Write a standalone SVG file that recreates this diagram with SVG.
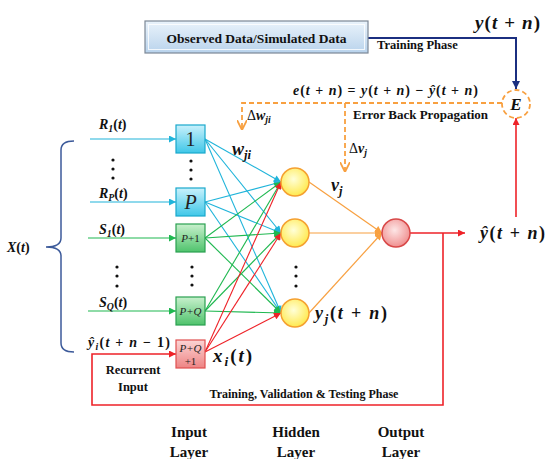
<svg xmlns="http://www.w3.org/2000/svg" width="550" height="459" viewBox="0 0 550 459">
<defs>
<style>
.lbl{font-family:"Liberation Serif","Times New Roman",serif;font-weight:bold;fill:#111}
.m{font-family:"Liberation Serif","Times New Roman",serif;font-weight:bold;font-style:italic;fill:#111}
.up{font-style:normal}
.sub{font-size:70%}
.boxt{font-family:"Liberation Serif","Times New Roman",serif;fill:#222}
.cy{stroke:#20b4da;stroke-width:1.1;fill:none}
.gr{stroke:#1fb850;stroke-width:1.1;fill:none}
.rd{stroke:#ee2228;stroke-width:1.1;fill:none}
.or{stroke:#f8a040;stroke-width:1.2;fill:none}
.dots{fill:#111}
</style>
<linearGradient id="gTop" x1="0" y1="0" x2="0" y2="1"><stop offset="0" stop-color="#eaf3fb"/><stop offset="1" stop-color="#b9d3ec"/></linearGradient>
<linearGradient id="gCy" x1="0" y1="0" x2="0" y2="1"><stop offset="0" stop-color="#c9f1fc"/><stop offset="1" stop-color="#3fc7e8"/></linearGradient>
<linearGradient id="gGr" x1="0" y1="0" x2="0" y2="1"><stop offset="0" stop-color="#c8f0cd"/><stop offset="1" stop-color="#4fc36c"/></linearGradient>
<linearGradient id="gRd" x1="0" y1="0" x2="0" y2="1"><stop offset="0" stop-color="#fcd4d4"/><stop offset="1" stop-color="#ee8484"/></linearGradient>
<radialGradient id="gHid" cx="0.45" cy="0.4" r="0.6"><stop offset="0" stop-color="#ffffd8"/><stop offset="1" stop-color="#ffe94e"/></radialGradient>
<radialGradient id="gOut" cx="0.45" cy="0.4" r="0.6"><stop offset="0" stop-color="#fde6e6"/><stop offset="1" stop-color="#f09090"/></radialGradient>
<marker id="aCy" viewBox="0 0 10 10" refX="10" refY="5" markerUnits="userSpaceOnUse" markerWidth="8" markerHeight="7" orient="auto"><path d="M0,0 L10,5 L0,10 z" fill="#20b4da"/></marker>
<marker id="aGr" viewBox="0 0 10 10" refX="10" refY="5" markerUnits="userSpaceOnUse" markerWidth="8" markerHeight="7" orient="auto"><path d="M0,0 L10,5 L0,10 z" fill="#1fb850"/></marker>
<marker id="aRd" viewBox="0 0 10 10" refX="10" refY="5" markerUnits="userSpaceOnUse" markerWidth="8" markerHeight="7" orient="auto"><path d="M0,0 L10,5 L0,10 z" fill="#ee2228"/></marker>
<marker id="aOr" viewBox="0 0 10 10" refX="10" refY="5" markerUnits="userSpaceOnUse" markerWidth="8" markerHeight="7" orient="auto"><path d="M0,0 L10,5 L0,10 z" fill="#f8a040"/></marker>
<marker id="aBl" viewBox="0 0 10 10" refX="10" refY="5" markerUnits="userSpaceOnUse" markerWidth="9" markerHeight="8" orient="auto"><path d="M0,0 L10,5 L0,10 z" fill="#1b2f80"/></marker>
<marker id="aOrD" viewBox="0 0 10 10" refX="10" refY="5" markerUnits="userSpaceOnUse" markerWidth="10" markerHeight="10" orient="auto"><path d="M0,0 L10,5 L0,10" fill="none" stroke="#f8a040" stroke-width="1.8"/></marker>
</defs>
<rect width="550" height="459" fill="#ffffff"/>

<g id="connectors">
  <line class="cy" x1="90" y1="139" x2="176" y2="139" marker-end="url(#aCy)"/>
  <line class="cy" x1="90" y1="202" x2="176" y2="202" marker-end="url(#aCy)"/>
  <line class="gr" x1="88" y1="238" x2="176" y2="238" marker-end="url(#aGr)"/>
  <line class="gr" x1="88" y1="311" x2="176" y2="311" marker-end="url(#aGr)"/>
  <line class="cy" x1="205" y1="139" x2="281" y2="182" marker-end="url(#aCy)"/>
  <line class="cy" x1="205" y1="139" x2="281" y2="233" marker-end="url(#aCy)"/>
  <line class="cy" x1="205" y1="139" x2="281" y2="313" marker-end="url(#aCy)"/>
  <line class="cy" x1="205" y1="202" x2="281" y2="182" marker-end="url(#aCy)"/>
  <line class="cy" x1="205" y1="202" x2="281" y2="233" marker-end="url(#aCy)"/>
  <line class="cy" x1="205" y1="202" x2="281" y2="313" marker-end="url(#aCy)"/>
  <line class="gr" x1="205" y1="238" x2="281" y2="182" marker-end="url(#aGr)"/>
  <line class="gr" x1="205" y1="238" x2="281" y2="233" marker-end="url(#aGr)"/>
  <line class="gr" x1="205" y1="238" x2="281" y2="313" marker-end="url(#aGr)"/>
  <line class="gr" x1="205" y1="311" x2="281" y2="182" marker-end="url(#aGr)"/>
  <line class="gr" x1="205" y1="311" x2="281" y2="233" marker-end="url(#aGr)"/>
  <line class="gr" x1="205" y1="311" x2="281" y2="313" marker-end="url(#aGr)"/>
  <line class="rd" x1="205" y1="352" x2="281" y2="182" marker-end="url(#aRd)"/>
  <line class="rd" x1="205" y1="352" x2="281" y2="233" marker-end="url(#aRd)"/>
  <line class="rd" x1="205" y1="352" x2="281" y2="313" marker-end="url(#aRd)"/>
  <line class="or" x1="309" y1="182" x2="382" y2="233" marker-end="url(#aOr)"/>
  <line class="or" x1="309" y1="233" x2="382" y2="233" marker-end="url(#aOr)"/>
  <line class="or" x1="309" y1="313" x2="382" y2="233" marker-end="url(#aOr)"/>
  <line x1="410" y1="233" x2="465" y2="233" stroke="#ee2228" stroke-width="1.6" marker-end="url(#aRd)"/>
  <path d="M443,233 L443,405 L92,405 L92,354 L176,354" fill="none" stroke="#ee2228" stroke-width="1.6" marker-end="url(#aRd)"/>
  <line x1="516" y1="217" x2="516" y2="118" stroke="#ee2228" stroke-width="1.6" marker-end="url(#aRd)"/>
  <path d="M368,38 L516,38 L516,89" fill="none" stroke="#1b2f80" stroke-width="2" marker-end="url(#aBl)"/>
  <path d="M502,103 L242,103 L242,130" fill="none" stroke="#f8a040" stroke-width="1.8" stroke-dasharray="5,3" marker-end="url(#aOrD)"/>
  <path d="M345,103 L345,172" fill="none" stroke="#f8a040" stroke-width="1.8" stroke-dasharray="5,3" marker-end="url(#aOrD)"/>
  <path d="M74,141 Q61,141 61,150 L61,238 Q61,247 46,247 Q61,247 61,256 L61,343 Q61,352 74,352" fill="none" stroke="#3c5a9a" stroke-width="1.5"/>
</g>

<g id="data-box">
  <rect x="145" y="21" width="223" height="32" fill="url(#gTop)" stroke="#7c8896" stroke-width="1.2"/>
  <rect x="148.5" y="24.5" width="216" height="25" fill="none" stroke="#ffffff" stroke-width="1" opacity="0.8"/>
  <text class="lbl" x="256.5" y="42.5" font-size="13.5" text-anchor="middle">Observed Data/Simulated Data</text>
</g>

<g id="node-1">
  <rect x="176" y="125" width="29" height="28" fill="url(#gCy)" stroke="#1aa8cc" stroke-width="1.2"/>
  <text class="boxt" x="190.5" y="146" font-size="20" text-anchor="middle">1</text>
</g>
<g id="node-P">
  <rect x="176" y="188" width="29" height="28" fill="url(#gCy)" stroke="#1aa8cc" stroke-width="1.2"/>
  <text class="boxt" x="190.5" y="209" font-size="20" font-style="italic" text-anchor="middle">P</text>
</g>
<g id="node-P1">
  <rect x="176" y="224" width="29" height="28" fill="url(#gGr)" stroke="#2aa050" stroke-width="1.2"/>
  <text class="boxt" x="190.5" y="242" font-size="11" text-anchor="middle"><tspan font-style="italic">P</tspan>+1</text>
</g>
<g id="node-PQ">
  <rect x="176" y="297" width="29" height="28" fill="url(#gGr)" stroke="#2aa050" stroke-width="1.2"/>
  <text class="boxt" x="190.5" y="315" font-size="11" font-style="italic" text-anchor="middle">P+Q</text>
</g>
<g id="node-PQ1">
  <rect x="176" y="340" width="29" height="28" fill="url(#gRd)" stroke="#e05050" stroke-width="1.2"/>
  <text class="boxt" x="190.5" y="352" font-size="11" font-style="italic" text-anchor="middle">P+Q</text>
  <text class="boxt" x="190.5" y="365" font-size="11" text-anchor="middle">+1</text>
</g>

<g id="hidden-1"><circle cx="295" cy="182" r="14" fill="url(#gHid)" stroke="#f5a030" stroke-width="1.5"/></g>
<g id="hidden-2"><circle cx="295" cy="233" r="14" fill="url(#gHid)" stroke="#f5a030" stroke-width="1.5"/></g>
<g id="hidden-3"><circle cx="295" cy="313" r="14" fill="url(#gHid)" stroke="#f5a030" stroke-width="1.5"/></g>
<g id="output"><circle cx="396" cy="233" r="14" fill="url(#gOut)" stroke="#d84848" stroke-width="1.5"/></g>
<g id="error-node">
  <circle cx="516" cy="104" r="14" fill="#ffffff" stroke="#f8a040" stroke-width="1.8" stroke-dasharray="5,3"/>
  <text class="m" x="516" y="110" font-size="17" text-anchor="middle">E</text>
</g>

<g id="dots">
  <circle class="dots" cx="113" cy="160" r="1.6"/><circle class="dots" cx="113" cy="169" r="1.6"/><circle class="dots" cx="113" cy="178" r="1.6"/>
  <circle class="dots" cx="117" cy="267" r="1.6"/><circle class="dots" cx="117" cy="276" r="1.6"/><circle class="dots" cx="117" cy="286" r="1.6"/>
  <circle class="dots" cx="191" cy="161" r="1.6"/><circle class="dots" cx="191" cy="170" r="1.6"/><circle class="dots" cx="191" cy="179" r="1.6"/>
  <circle class="dots" cx="192" cy="267" r="1.6"/><circle class="dots" cx="192" cy="276" r="1.6"/><circle class="dots" cx="192" cy="285" r="1.6"/>
  <circle class="dots" cx="296" cy="267" r="1.6"/><circle class="dots" cx="296" cy="276" r="1.6"/><circle class="dots" cx="296" cy="286" r="1.6"/>
</g>

<g id="labels">
  <text class="m" x="475" y="29" font-size="19" textLength="65" lengthAdjust="spacing">y<tspan class="up">(</tspan>t<tspan class="up"> + </tspan>n<tspan class="up">)</tspan></text>
  <text class="lbl" x="377" y="49" font-size="12.5">Training Phase</text>
  <text class="m" x="293" y="95" font-size="14" textLength="185" lengthAdjust="spacing">e<tspan class="up">(</tspan>t<tspan class="up"> + </tspan>n<tspan class="up">) = </tspan>y<tspan class="up">(</tspan>t<tspan class="up"> + </tspan>n<tspan class="up">) − </tspan>ŷ<tspan class="up">(</tspan>t<tspan class="up"> + </tspan>n<tspan class="up">)</tspan></text>
  <text class="lbl" x="353" y="119" font-size="13">Error Back Propagation</text>
  <text class="m" x="247" y="120" font-size="14"><tspan class="up" font-weight="normal">Δ</tspan>w<tspan class="sub" dy="3">ji</tspan></text>
  <text class="m" x="349" y="153" font-size="14"><tspan class="up" font-weight="normal">Δ</tspan>v<tspan class="sub" dy="3">j</tspan></text>
  <text class="m" x="232" y="155" font-size="18">w<tspan class="sub" dy="4">ji</tspan></text>
  <text class="m" x="331" y="191" font-size="18">v<tspan class="sub" dy="4">j</tspan></text>
  <text class="m" x="315" y="319" font-size="18" textLength="72" lengthAdjust="spacing">y<tspan class="sub" dy="4">j</tspan><tspan dy="-4" class="up">(</tspan>t<tspan class="up"> + </tspan>n<tspan class="up">)</tspan></text>
  <text class="m" x="213" y="362" font-size="19" textLength="39" lengthAdjust="spacing">x<tspan class="sub" dy="4">i</tspan><tspan dy="-4" class="up">(</tspan>t<tspan class="up">)</tspan></text>
  <text class="m" x="480" y="239" font-size="18" textLength="65" lengthAdjust="spacing">ŷ<tspan class="up">(</tspan>t<tspan class="up"> + </tspan>n<tspan class="up">)</tspan></text>
  <text class="m" x="99" y="129" font-size="14">R<tspan class="sub" dy="3">1</tspan><tspan dy="-3" class="up">(</tspan>t<tspan class="up">)</tspan></text>
  <text class="m" x="99" y="198" font-size="14">R<tspan class="sub" dy="3">P</tspan><tspan dy="-3" class="up">(</tspan>t<tspan class="up">)</tspan></text>
  <text class="m" x="99" y="234" font-size="14">S<tspan class="sub" dy="3">1</tspan><tspan dy="-3" class="up">(</tspan>t<tspan class="up">)</tspan></text>
  <text class="m" x="99" y="307" font-size="14">S<tspan class="sub" dy="3">Q</tspan><tspan dy="-3" class="up">(</tspan>t<tspan class="up">)</tspan></text>
  <text class="m" x="88" y="347" font-size="14" textLength="82" lengthAdjust="spacing">ŷ<tspan class="sub" dy="3">i</tspan><tspan dy="-3" class="up">(</tspan>t<tspan class="up"> + </tspan>n<tspan class="up"> − 1)</tspan></text>
  <text class="m" x="7" y="252" font-size="14">X<tspan class="up">(</tspan>t<tspan class="up">)</tspan></text>
  <text class="lbl" x="133" y="374" font-size="12.5" text-anchor="middle">Recurrent</text>
  <text class="lbl" x="133" y="391" font-size="12.5" text-anchor="middle">Input</text>
  <text class="lbl" x="304" y="398" font-size="12" text-anchor="middle">Training, Validation &amp; Testing Phase</text>
  <text class="lbl" x="189" y="437" font-size="15" text-anchor="middle">Input</text>
  <text class="lbl" x="189" y="457" font-size="15" text-anchor="middle">Layer</text>
  <text class="lbl" x="296" y="437" font-size="15" text-anchor="middle">Hidden</text>
  <text class="lbl" x="296" y="457" font-size="15" text-anchor="middle">Layer</text>
  <text class="lbl" x="401" y="437" font-size="15" text-anchor="middle">Output</text>
  <text class="lbl" x="401" y="457" font-size="15" text-anchor="middle">Layer</text>
</g>
</svg>
